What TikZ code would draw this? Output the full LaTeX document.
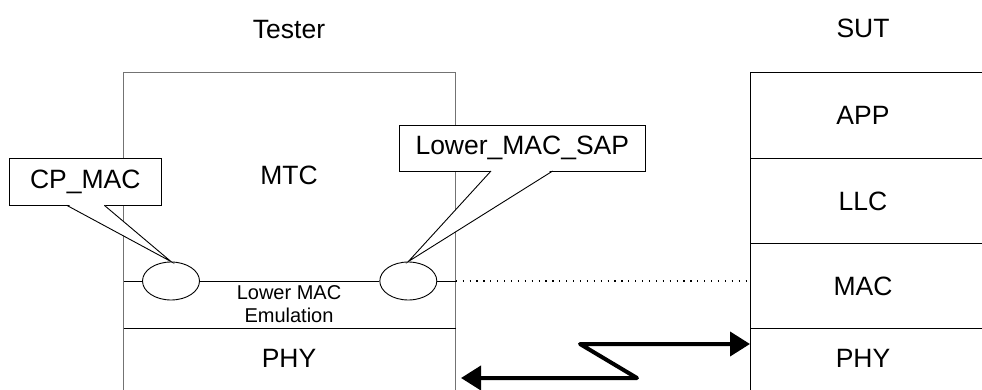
\documentclass[tikz,border=0pt]{standalone}
\usepackage{fontspec}
\setmainfont{Liberation Sans}
\usetikzlibrary{arrows.meta,shapes.geometric}
\begin{document}
\begin{tikzpicture}[x=1pt,y=-1pt,
  lbl/.style={font=\fontsize{26.5}{30}\selectfont, inner sep=0pt},
  small/.style={font=\fontsize{20}{23}\selectfont, inner sep=0pt, align=center},
  gline/.style={draw=black!55, line width=1pt},
  bline/.style={draw=black, line width=1pt},
  sap/.style={ellipse, draw, line width=0.9pt, minimum width=57pt, minimum height=38pt, inner sep=0pt, fill=white},
  callbox/.style={rectangle, draw, fill=white, line width=0.9pt, inner sep=0pt},
  ptr/.style={draw=black, line width=0.9pt},
  dotline/.style={line width=1.2pt, dash pattern=on 1.2pt off 5.7pt},
  link/.style={line width=4pt, line join=round, {Triangle[length=20pt,width=24pt]}-{Triangle[length=20pt,width=24pt]}}
]
\useasboundingbox (0,0) rectangle (982,390);
\clip (0,0) rectangle (982,390);

% Tester stack
\coordinate (tBL) at (123.7,392);
\coordinate (tTL) at (123.7,72.3);
\coordinate (tTR) at (455.7,72.3);
\coordinate (tBR) at (455.7,392);
\draw[gline] (tBL) -- (tTL) -- (tTR) -- (tBR);
\coordinate (tML) at (123.7,328);
\coordinate (tMR) at (455.7,328);
\draw[bline] (tML) -- (tMR);

% SAP line
\coordinate (sL) at (123.7,281);
\coordinate (sR) at (455.7,281);
\node[sap] (e1) at (171,281) {};
\node[sap] (e2) at (408.3,281) {};
\draw[bline] (sL) -- (e1) (e1) -- (e2) (e2) -- (sR);

% SUT stack
\coordinate (uBL) at (750,392);
\coordinate (uTL) at (750,72.7);
\coordinate (uTR) at (995,72.7);
\draw[bline] (uBL) -- (uTL) -- (uTR);
\coordinate (u1L) at (750,158.3); \coordinate (u1R) at (995,158.3);
\coordinate (u2L) at (750,243.3); \coordinate (u2R) at (995,243.3);
\coordinate (u3L) at (750,328.3); \coordinate (u3R) at (995,328.3);
\draw[bline] (u1L) -- (u1R) (u2L) -- (u2R) (u3L) -- (u3R);
\coordinate (uMAC) at (750,281);
\draw[dotline] (sR) -- (uMAC);

% Labels
\node[lbl] (tester) at (289,30) {Tester};
\node[lbl] (sut) at (863,28) {SUT};
\node[lbl] (mtc) at (289,175) {MTC};
\node[small] (emu) at (289,304.5) {Lower MAC\\Emulation};
\node[lbl] (phyT) at (289,358) {PHY};
\node[lbl] (app) at (863,115.5) {APP};
\node[lbl] (llc) at (863,201) {LLC};
\node[lbl] (mac) at (863,286) {MAC};
\node[lbl] (phyS) at (863,358) {PHY};

% Callout CP_MAC
\node[callbox, minimum width=152pt, minimum height=47pt, lbl] (cp) at (85.3,181.8) {CP\_MAC};
\coordinate (c1) at (66.7,205.3);
\coordinate (c2) at (104.3,205.3);
\fill[white] (67.4,204.2) -- (e1.north) -- (103.6,204.2) -- cycle;
\draw[ptr] (c1) -- (e1.north) -- (c2);

% Callout Lower_MAC_SAP
\node[callbox, minimum width=246.7pt, minimum height=46pt, lbl] (lms) at (522.3,148) {Lower\_MAC\_SAP};
\coordinate (d1) at (491,171);
\coordinate (d2) at (552.7,171);
\fill[white] (491.8,169.9) -- (e2.north) -- (551.9,169.9) -- cycle;
\draw[ptr] (d1) -- (e2.north) -- (d2);

% Radio link
\coordinate (aL) at (461,378);
\coordinate (a1) at (637,378);
\coordinate (a2) at (580,344);
\coordinate (aR) at (750,344);
\draw[link] (aL) -- (a1) -- (a2) -- (aR);
\end{tikzpicture}
\end{document}
